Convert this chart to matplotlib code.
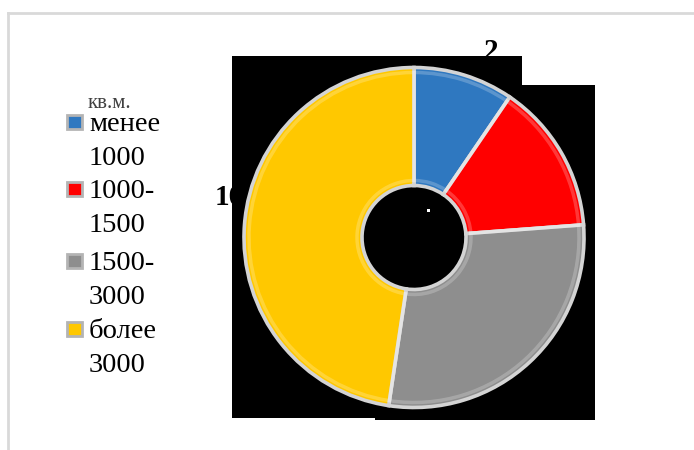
import matplotlib
matplotlib.use("Agg")
import matplotlib.pyplot as plt
from matplotlib.patches import Rectangle

# ---- data ----
categories = ["менее\n1000", "1000-\n1500", "1500-\n3000", "более\n3000"]
values = [2, 3, 6, 10]
colors = ["#2f78c0", "#ff0000", "#8e8e8e", "#ffc800"]
legend_title = "кв.м."
shown_labels = ["2", "10"]  # data labels partly visible

W, H = 694, 450
fig = plt.figure(figsize=(W / 100, H / 100), dpi=100)
ax = fig.add_axes([0, 0, 1, 1])

def Y(p):
    return H - p

SERIF = "Liberation Serif"

# outer frame (light gray, only left and top visible)
ax.plot([8, 8], [Y(13), Y(450)], color="#d9d9d9", lw=2, zorder=1)
ax.plot([8, 694], [Y(13), Y(13)], color="#d9d9d9", lw=2, zorder=1)

# data labels (partially hidden behind black boxes)
ax.text(491, Y(59), shown_labels[0], fontsize=21, fontweight="bold",
        family=SERIF, ha="center", va="baseline", color="black", zorder=2)
ax.text(229, Y(205), shown_labels[1], fontsize=21, fontweight="bold",
        family=SERIF, ha="center", va="baseline", color="black", zorder=2)

# black background boxes
for (x0, y0, x1, y1) in [(232, 56, 375, 418), (375, 56, 522, 420), (522, 85, 595, 420)]:
    ax.add_patch(Rectangle((x0, Y(y1)), x1 - x0, y1 - y0, facecolor="black",
                           edgecolor="none", zorder=3))

# donut
wedges, _ = ax.pie(values, colors=colors, startangle=90, counterclock=False,
                   radius=170, center=(414, Y(237.5)),
                   wedgeprops=dict(width=118, edgecolor="#d4d4d4", linewidth=2.6, zorder=4))
# subtle bevel highlight
ax.pie(values, colors=["none"] * len(values), startangle=90, counterclock=False,
       radius=165, center=(414, Y(237.5)),
       wedgeprops=dict(width=108, edgecolor=(1, 1, 1, 0.22), linewidth=2.5, zorder=5))

# tiny white remnant
ax.add_patch(Rectangle((427, Y(212)), 3, 3, facecolor="white", edgecolor="none", zorder=6))

# legend (manual)
t = ax.text(88, Y(108), legend_title, fontsize=15, family=SERIF, ha="left",
            va="baseline", color="#404040", zorder=2)
t.set_clip_path(Rectangle((0, Y(450)), W, 450 - 99, transform=ax.transData))

first_baselines = [131, 198, 270, 338]
line_gap = 34
for lab, col, b in zip(categories, colors, first_baselines):
    lines = lab.split("\n")
    for i, ln in enumerate(lines):
        ax.text(89, Y(b + i * line_gap), ln, fontsize=20.5, family=SERIF,
                ha="left", va="baseline", color="black", zorder=2)
    ax.add_patch(Rectangle((67, Y(b - 2)), 15, 14, facecolor=col,
                           edgecolor="#b4b4b4", linewidth=2, zorder=2))

ax.set_xlim(0, W)
ax.set_ylim(0, H)
ax.set_aspect("equal")
ax.axis("off")

fig.savefig("out.png", dpi=100, facecolor="white")
